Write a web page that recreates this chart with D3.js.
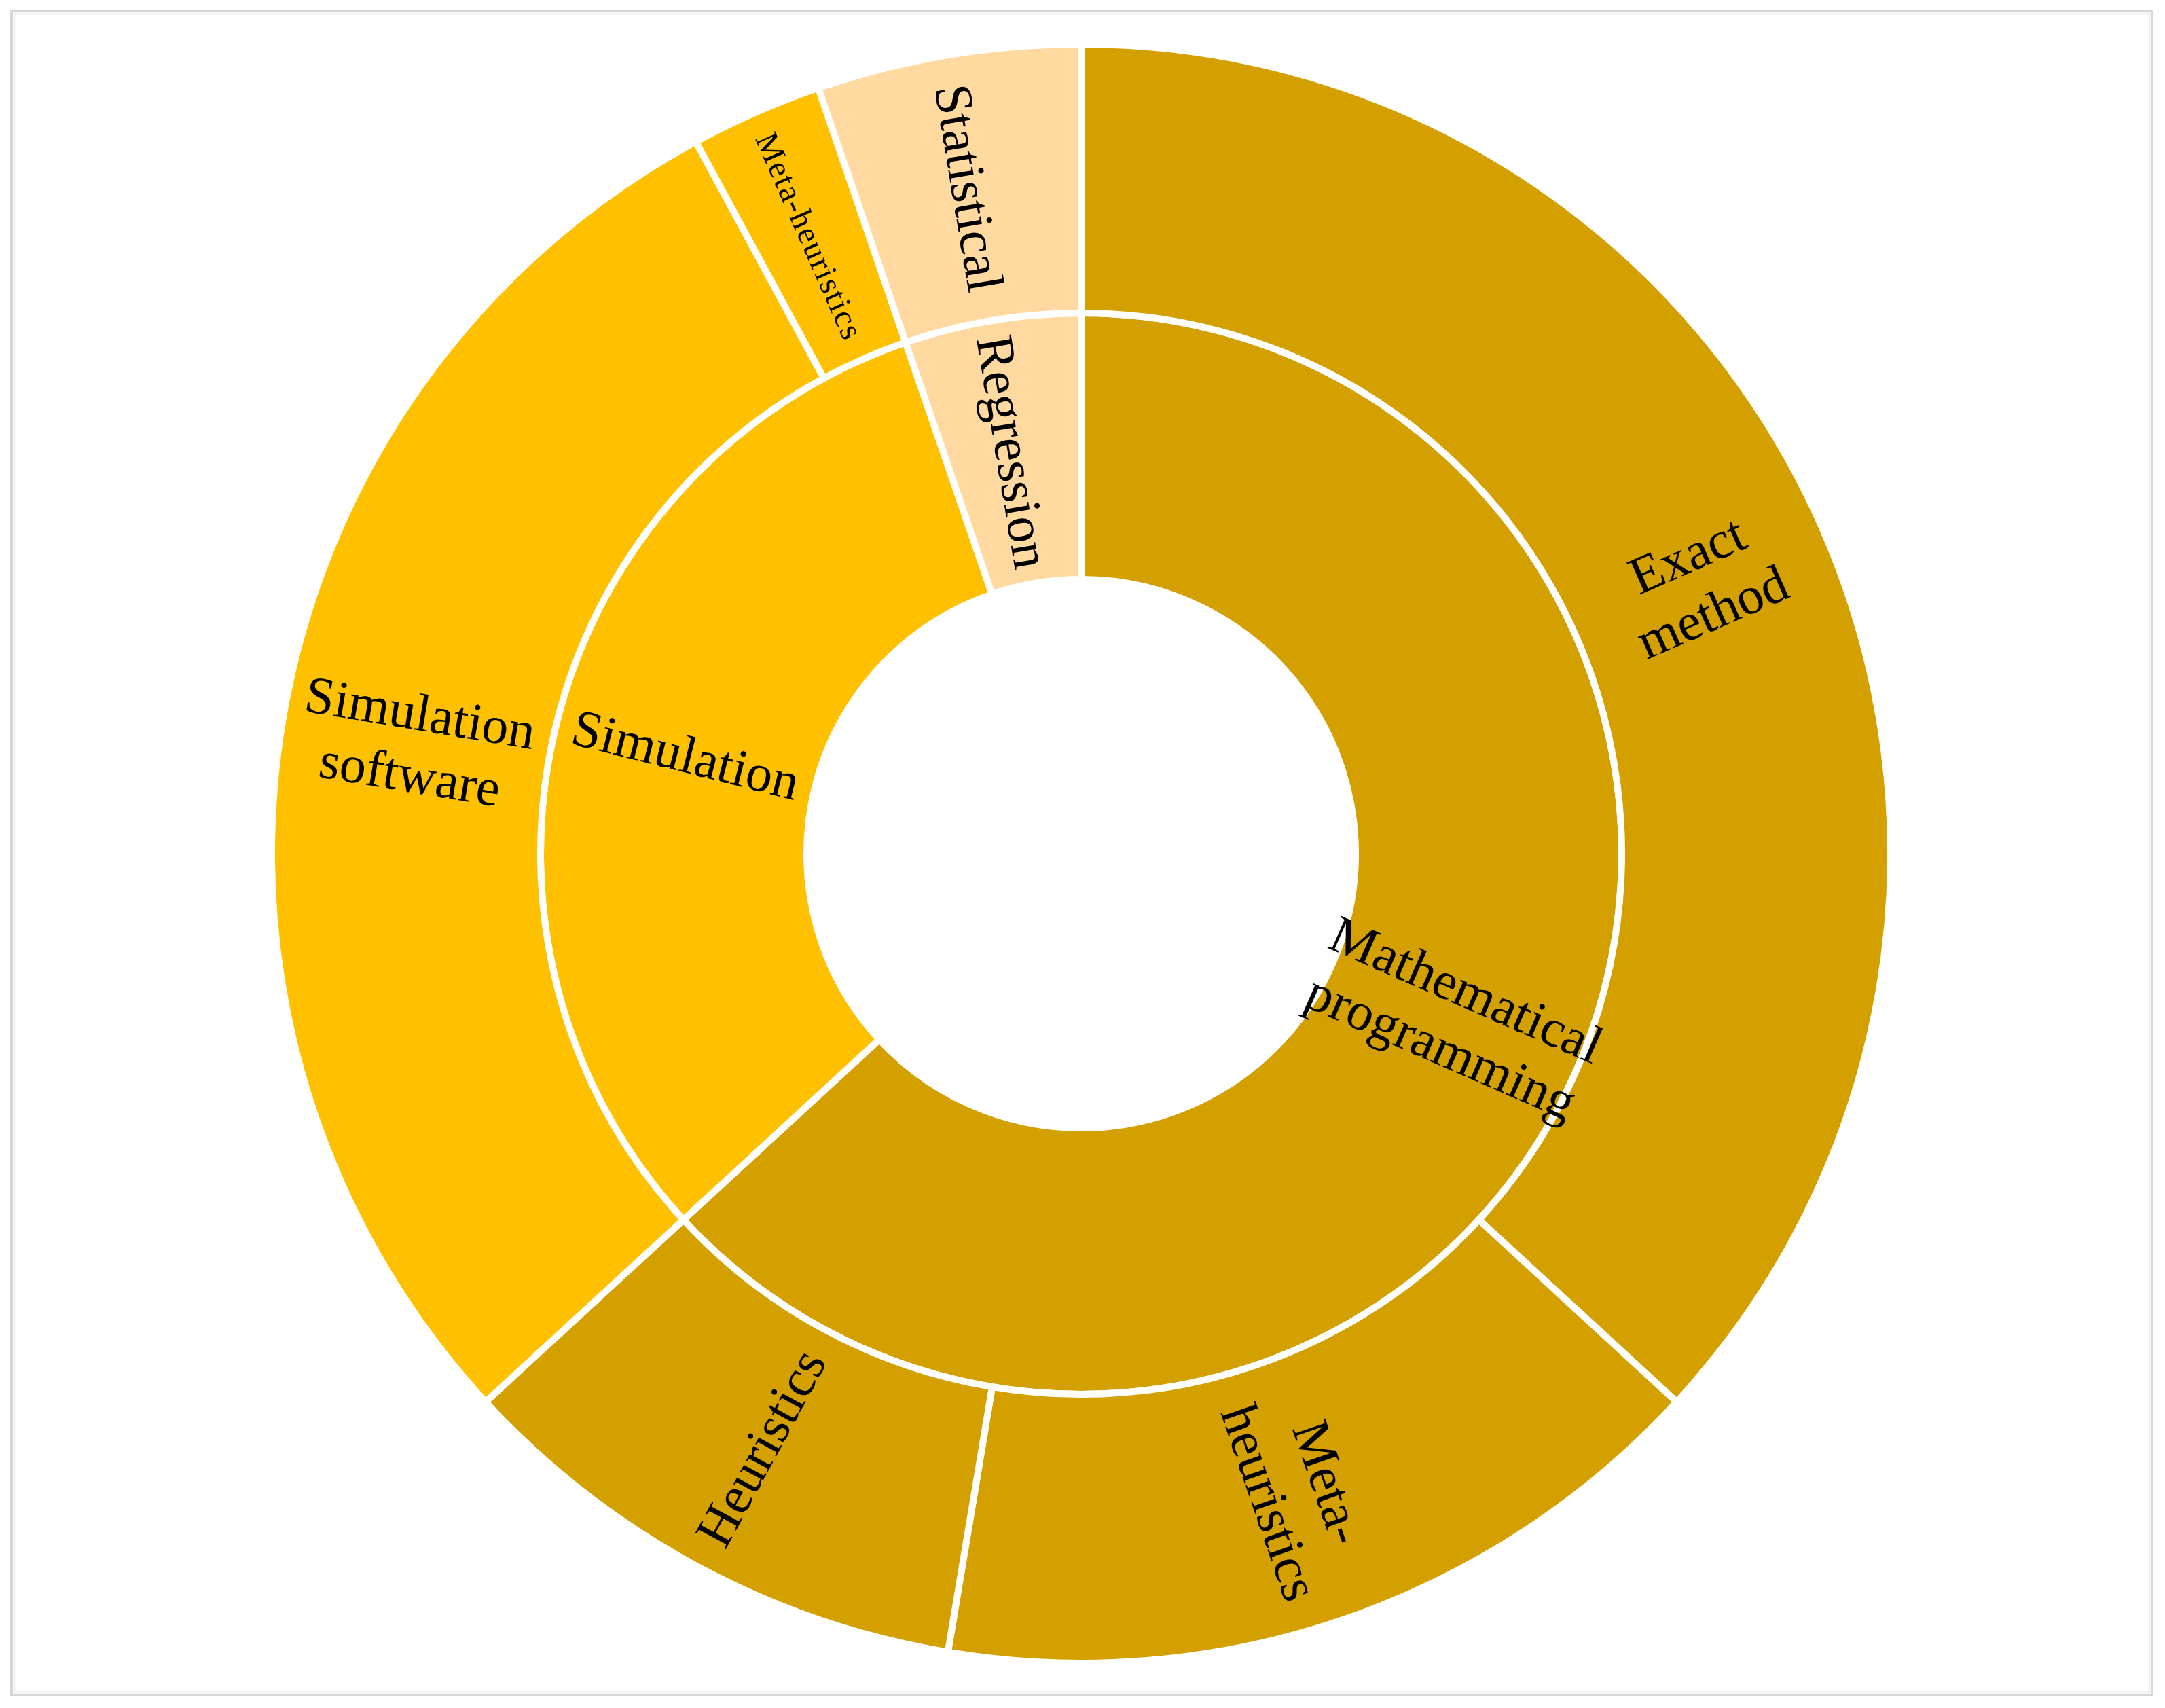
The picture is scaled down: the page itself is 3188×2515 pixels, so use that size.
<!DOCTYPE html>
<html>
<head>
<meta charset="utf-8">
<script src="https://cdn.jsdelivr.net/npm/d3@7"></script>
<style>
  html, body { margin: 0; padding: 0; background: #ffffff; }
  svg { display: block; }
</style>
</head>
<body>
<script>
// ---- data ----
const innerCategories = ["Mathematical programming", "Simulation", "Regression"];
const innerLines = [["Mathematical", "programming"], ["Simulation"], ["Regression"]];
const outerCategories = ["Exact method", "Meta-heuristics", "Heuristics", "Simulation software", "Meta-heuristics", "Statistical"];
const outerParents = ["Mathematical programming", "Mathematical programming", "Mathematical programming", "Simulation", "Simulation", "Regression"];
const outerValues = [14, 6, 4, 11, 1, 2];
const outerLines = [["Exact", "method"], ["Meta-", "heuristics"], ["Heuristics"], ["Simulation", "software"], ["Meta-heuristics"], ["Statistical"]];
const categoryColors = ["#D4A000", "#FFC000", "#FFD9A0"];

// ---- layout ----
const W = 3188, H = 2515;
const cx = 1592, cy = 1257;
const r0 = 404, r1 = 796, r2 = 1192;

const svg = d3.select("body").append("svg").attr("width", W).attr("height", H);

// frame
svg.append("rect").attr("x", 17).attr("y", 16).attr("width", 3152).attr("height", 2480)
  .attr("fill", "none").attr("stroke", "#d6d6d6").attr("stroke-width", 4);
svg.append("rect").attr("x", 21).attr("y", 20).attr("width", 3144).attr("height", 2472)
  .attr("fill", "none").attr("stroke", "#f0f0f0").attr("stroke-width", 3);

const color = d3.scaleOrdinal().domain(innerCategories).range(categoryColors);

const innerValues = innerCategories.map(c =>
  d3.sum(outerValues.filter((v, i) => outerParents[i] === c)));

const pie = d3.pie().sort(null).value(d => d.value);

const innerData = pie(innerCategories.map((c, i) => ({ name: c, parent: c, value: innerValues[i], lines: innerLines[i] })));
const outerData = pie(outerCategories.map((c, i) => ({ name: c, parent: outerParents[i], value: outerValues[i], lines: outerLines[i] })));

const innerArc = d3.arc().innerRadius(r0).outerRadius(r1);
const outerArc = d3.arc().innerRadius(r1).outerRadius(r2);

const g = svg.append("g").attr("transform", `translate(${cx},${cy})`);

function drawRing(data, arc, cls) {
  g.selectAll("path." + cls).data(data).enter().append("path")
    .attr("class", cls)
    .attr("d", arc)
    .attr("fill", d => color(d.data.parent))
    .attr("stroke", "#ffffff")
    .attr("stroke-width", 10)
    .attr("stroke-linejoin", "miter");
}
drawRing(innerData, innerArc, "inner");
drawRing(outerData, outerArc, "outer");

const fontFamily = "'Liberation Serif', 'Times New Roman', serif";

function drawLabels(data, arc, small) {
  data.forEach(d => {
    const [x, y] = arc.centroid(d);
    const a = (d.startAngle + d.endAngle) / 2 * 180 / Math.PI;
    const rot = a > 180 ? a - 270 : a - 90;
    const isSmall = small && d.value === 1;
    const fs = isSmall ? 48 : 78;
    const lh = isSmall ? 50 : 92;
    const lines = d.data.lines;
    const t = g.append("text")
      .attr("transform", `translate(${x},${y}) rotate(${rot})`)
      .attr("font-family", fontFamily)
      .attr("font-size", fs)
      .attr("fill", "#000")
      .attr("text-anchor", "middle");
    lines.forEach((ln, i) => {
      const ts = t.append("tspan")
        .attr("x", 0)
        .attr("y", (i - (lines.length - 1) / 2) * lh)
        .attr("dy", "0.35em")
        .text(ln);
      if (isSmall) ts.attr("textLength", 326).attr("lengthAdjust", "spacing");
    });
  });
}
drawLabels(innerData, innerArc, false);
drawLabels(outerData, outerArc, true);
</script>
</body>
</html>
